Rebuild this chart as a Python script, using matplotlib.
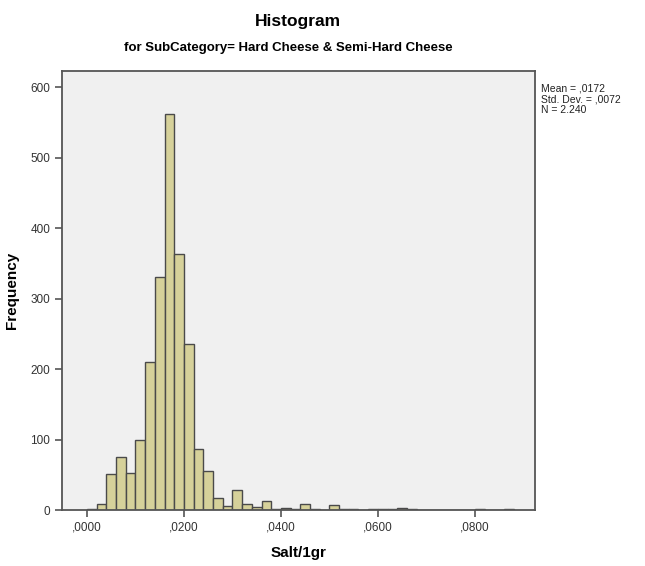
import numpy as np
import matplotlib.pyplot as plt

# Salt/1gr histogram, bin width 0,002 starting at 0
bin_width = 0.002
counts = [2, 8, 51, 75, 52, 100, 210, 330, 562, 363, 236, 86, 56, 17, 5, 28,
          9, 4, 13, 2, 3, 1, 9, 2, 0, 7, 1, 1, 0, 1, 1, 1, 3, 1, 0, 0,
          0, 0, 0, 0, 2, 0, 0, 1]
x_ticks = [0.0, 0.02, 0.04, 0.06, 0.08]
x_ticklabels = [',0000', ',0200', ',0400', ',0600', ',0800']
y_ticks = [0, 100, 200, 300, 400, 500, 600]
stats_text = 'Mean = ,0172\nStd. Dev. = ,0072\nN = 2.240'

plt.rcParams['font.family'] = ['Liberation Sans', 'DejaVu Sans']

edges = np.arange(len(counts)) * bin_width

fig = plt.figure(figsize=(6.45, 5.66), dpi=100)
ax = fig.add_axes([0.0961, 0.0989, 0.7333, 0.7756])
ax.set_facecolor('#f0f0f0')

ax.bar(edges, counts, width=bin_width, align='edge',
       color='#d6d19a', edgecolor='#4a4a4a', linewidth=1.0)

ax.set_xlim(-0.00515, 0.0924)
ax.set_ylim(0, 623)
ax.set_xticks(x_ticks)
ax.set_xticklabels(x_ticklabels)
ax.set_yticks(y_ticks)
ax.tick_params(axis='both', direction='out', length=5, width=1.2,
               colors='#555555', labelsize=8.5, labelcolor='#333333')
for s in ax.spines.values():
    s.set_color('#555555')
    s.set_linewidth(1.3)

ax.set_xlabel('Salt/1gr', fontsize=11, fontweight='bold', labelpad=9)
ax.set_ylabel('Frequency', fontsize=11, fontweight='bold', labelpad=8)

fig.text(0.462, 0.962, 'Histogram', ha='center', va='center',
         fontsize=12.5, fontweight='bold')
fig.text(0.447, 0.915, 'for SubCategory= Hard Cheese & Semi-Hard Cheese',
         ha='center', va='center', fontsize=9.5, fontweight='bold')
fig.text(0.838, 0.852, stats_text, ha='left', va='top', fontsize=7.5,
         linespacing=1.1, color='#222222')

fig.savefig('out.png', dpi=100, facecolor='white')
